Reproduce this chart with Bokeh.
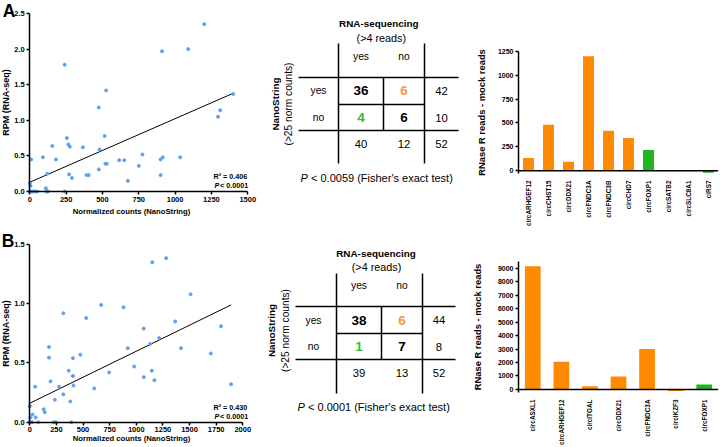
import math
from bokeh.plotting import figure
from bokeh.models import Range1d, FixedTicker, Label, Span, NumeralTickFormatter, LinearAxis
from bokeh.layouts import column, row
from bokeh.embed import file_html
from bokeh.resources import INLINE
from bokeh.core.properties import value

FONT = "Liberation Sans"
BLUE = "#5ea2ee"
ORANGE = "#ff8a00"
GREEN = "#22b422"
T_ORANGE = "#f39a3e"
T_GREEN = "#2fbf2f"

# ---------------- data: panel A scatter ----------------
scatA_x = [1200, 1090, 910, 240, 525, 475, 1400, 1310, 1295, 515, 255, 265, 275, 155, 365,
           480, 90, 180, 10, 775, 615, 650, 520, 530, 750, 915, 900, 1035, 475, 270, 390,
           405, 290, 900, 675, 120, 110, 120, 0, 5, 0, 20, 35, 50, 115, 240, 10, 125]
scatA_y = [2.35, 2.0, 1.97, 1.78, 1.42, 1.18, 1.37, 1.14, 1.05, 0.78, 0.75, 0.66, 0.63, 0.64, 0.62,
           0.59, 0.48, 0.45, 0.45, 0.52, 0.44, 0.44, 0.39, 0.39, 0.36, 0.48, 0.45, 0.48, 0.31, 0.24, 0.23,
           0.23, 0.19, 0.23, 0.15, 0.25, 0.045, 0.0, 0.12, 0.08, 0.0, 0.0, 0.0, 0.0, 0.0, 0.0, 0.0, 0.0]
fitA_x = [0, 1400]
fitA_y = [0.13, 1.38]
scatA_xticks = [0, 250, 500, 750, 1000, 1250, 1500]
scatA_yticks = [0.0, 0.5, 1.0, 1.5, 2.0, 2.5]
statA_r2 = "R\u00b2 = 0.406"
statA_p = "< 0.0001"

# ---------------- data: panel B scatter ----------------
scatB_x = [1280, 1150, 1510, 315, 670, 880, 530, 1365, 1795, 1070, 1215, 1130, 920, 1420, 180,
           180, 475, 405, 1700, 365, 1145, 980, 745, 405, 1070, 1170, 195, 410, 50, 275, 1890,
           605, 315, 235, 380, 130, 140, 0, 25, 55, 5, 0, 20, 80, 225, 245, 390]
scatB_y = [1.385, 1.35, 1.08, 0.92, 0.99, 0.97, 0.88, 0.85, 0.81, 0.79, 0.71, 0.66, 0.625, 0.625, 0.635,
           0.545, 0.57, 0.54, 0.58, 0.435, 0.435, 0.47, 0.42, 0.39, 0.38, 0.355, 0.345, 0.31, 0.30, 0.30, 0.32,
           0.285, 0.235, 0.19, 0.175, 0.11, 0.085, 0.135, 0.065, 0.04, 0.04, 0.0, 0.0, 0.0, 0.0, 0.0, 0.0]
fitB_x = [0, 1890]
fitB_y = [0.16, 0.99]
scatB_xticks = [0, 250, 500, 750, 1000, 1250, 1500, 1750, 2000]
scatB_yticks = [0.0, 0.5, 1.0, 1.5]
statB_r2 = "R\u00b2 = 0.430"
statB_p = "< 0.0001"

scat_xtitle = "Normalized counts (NanoString)"
scat_ytitle = "RPM (RNA-seq)"

# ---------------- data: contingency tables ----------------
tabA_cells = ["36", "6", "4", "6"]        # (NS yes, RNA yes), (NS yes, RNA no), (NS no, RNA yes), (NS no, RNA no)
tabA_row_tot = ["42", "10"]
tabA_col_tot = ["40", "12"]
tabA_total = "52"
tabA_p = "< 0.0059 (Fisher's exact test)"

tabB_cells = ["38", "6", "1", "7"]
tabB_row_tot = ["44", "8"]
tabB_col_tot = ["39", "13"]
tabB_total = "52"
tabB_p = "< 0.0001 (Fisher's exact test)"

tab_title = "RNA-sequencing"
tab_sub = "(>4 reads)"
tab_ylab = "NanoString"
tab_ysub = "(>25 norm counts)"
tab_yes_no = ["yes", "no"]

# ---------------- data: RNase R bars ----------------
barA_names = ["circARHGEF12", "circCHST15", "circDDX21", "circFNDC3A", "circFNDC3B",
              "circCHD7", "circFOXP1", "circSATB2", "circSLC8A1", "ciRS7"]
barA_vals = [133, 482, 93, 1200, 419, 342, 216, 8, 3, -22]
barA_set = ["NS only"] * 6 + ["RNA-seq only"] * 4
barA_yticks = [0, 250, 500, 750, 1000, 1250]

barB_names = ["circASXL1", "circARHGEF12", "circITGAL", "circDDX21", "circFNDC3A", "circIKZF3", "circFOXP1"]
barB_vals = [9150, 2060, 240, 960, 3000, -110, 355]
barB_set = ["NS only"] * 6 + ["RNA-seq only"]
barB_yticks = [0, 1000, 2000, 3000, 4000, 5000, 6000, 7000, 8000, 9000]
bar_ytitle = "RNase R reads - mock reads"


def lab(p, text, x, y, size, style="normal", angle=0, align="center", baseline="middle",
        color="black", units="screen"):
    p.add_layout(Label(x=x, y=y, x_units=units, y_units=units, text=text, text_font=FONT,
                       text_font_size=f"{size}px", text_font_style=style, text_align=align,
                       text_baseline=baseline, angle=angle, text_color=color))


def axis_style(ax, size="7.5px"):
    ax.axis_line_width = 1.5
    ax.axis_line_color = "black"
    ax.major_tick_line_width = 1.5
    ax.major_tick_line_color = "black"
    ax.major_tick_out = 3
    ax.major_tick_in = 0
    ax.minor_tick_line_color = None
    ax.major_label_text_font = FONT
    ax.major_label_text_font_style = "bold"
    ax.major_label_text_font_size = size
    ax.major_label_text_color = "black"
    ax.major_label_standoff = 2


def scatter_panel(W, H, left, top, fw, fh, xs, ys, fx, fy, xticks, yticks, letter, r2, pval, t):
    xmax, ymax = xticks[-1], yticks[-1]
    kx, ky = fw / xmax, fh / ymax
    bottom = H - top - fh
    xr = Range1d(-left / kx, xmax + (W - left - fw) / kx)
    yr = Range1d(-bottom / ky, ymax + top / ky)
    p = figure(width=W, height=H, x_range=xr, y_range=yr, output_backend="svg",
               toolbar_location=None, min_border=0, x_axis_location=None, y_axis_location=None)
    p.grid.visible = False
    p.outline_line_color = None
    xa = LinearAxis(fixed_location=0, bounds=(0, xmax), ticker=FixedTicker(ticks=xticks))
    ya = LinearAxis(fixed_location=0, bounds=(0, ymax), ticker=FixedTicker(ticks=yticks),
                    formatter=NumeralTickFormatter(format="0.0"))
    axis_style(xa)
    axis_style(ya)
    p.add_layout(xa, "below")
    p.add_layout(ya, "left")
    p.line(fx, fy, color="black", line_width=1)
    p.scatter(xs, ys, size=3, color=BLUE)
    Y = lambda v: H - v
    lab(p, letter, t["lx"], Y(t["ly"]), 17.5, "bold")
    lab(p, scat_ytitle, 5, Y(t["yty"]), 9, "bold", angle=math.pi / 2)
    lab(p, scat_xtitle, 131, Y(t["xty"]), 7.7, "bold")
    lab(p, r2, 213, Y(t["r2y"]), 7.2, "bold", align="left")
    lab(p, "P", 214, Y(t["py"]), 7.2, "bold italic", align="left")
    lab(p, pval, 219.5, Y(t["py"]), 7.2, "bold", align="left")
    return p


def table_panel(W, H, g, cells, rtot, ctot, total, ptxt):
    p = figure(width=W, height=H, x_range=Range1d(0, W), y_range=Range1d(0, H),
               output_backend="svg", toolbar_location=None, min_border=0,
               x_axis_location=None, y_axis_location=None)
    p.grid.visible = False
    p.outline_line_color = None
    Y = lambda v: H - v
    vx1, vx2, vtop, vbot = g["vx1"], g["vx2"], g["vtop"], g["vbot"]
    hy1, hy2, hx0, hx1 = g["hy1"], g["hy2"], g["hx0"], g["hx1"]
    p.segment(x0=[vx1, vx2, hx0, hx0, vx1, g["ivx"]],
              y0=[Y(vtop), Y(vtop), Y(hy1), Y(hy2), Y(g["ihy"]), Y(hy1)],
              x1=[vx1, vx2, hx1, hx1, vx2, g["ivx"]],
              y1=[Y(vbot), Y(vbot), Y(hy1), Y(hy2), Y(g["ihy"]), Y(hy2)],
              line_color="black", line_width=1.5)
    c1, c2, c3 = g["c1"], g["c2"], g["c3"]
    r1, r2, r3 = g["r1"], g["r2"], g["r3"]
    p.text(x=[c1, c2, c1, c2], y=[Y(r1), Y(r1), Y(r2), Y(r2)], text=cells,
           text_color=["black", T_ORANGE, T_GREEN, "black"], text_font=value(FONT),
           text_font_size=value("13.5px"), text_font_style="bold", text_align="center",
           text_baseline="middle")
    p.text(x=[c3, c3, c1, c2, c3], y=[Y(r1), Y(r2), Y(r3), Y(r3), Y(r3)],
           text=rtot + ctot + [total], text_font=value(FONT), text_font_size=value("11.3px"),
           text_align="center", text_baseline="middle")
    p.text(x=[c1, c2, g["rl"], g["rl"]], y=[Y(g["hd"]), Y(g["hd"]), Y(r1), Y(r2)],
           text=tab_yes_no + tab_yes_no, text_font=value(FONT), text_font_size=value("10.3px"),
           text_align="center", text_baseline="middle")
    lab(p, tab_title, g["tx"], Y(g["ty"]), 9.9, "bold", units="data")
    lab(p, tab_sub, g["sx"], Y(g["sy"]), 10.8, units="data")
    lab(p, tab_ylab, g["nx"], Y(g["ny"]), 9.9, "bold", angle=math.pi / 2, units="data")
    lab(p, tab_ysub, g["n2x"], Y(g["ny"]), 10.2, angle=math.pi / 2, units="data")
    lab(p, "P", g["px"], Y(g["py"]), 11, "italic", align="left", units="data")
    lab(p, ptxt, g["px"] + 10.5, Y(g["py"]), 11, align="left", units="data")
    return p


def bar_panel(W, H, left, top, fw, fh, names, vals, sets, ymin, ymax, yticks, title_standoff):
    p = figure(width=W, height=H, x_range=names, y_range=Range1d(ymin, ymax),
               output_backend="svg", toolbar_location=None, min_border_left=left,
               min_border_right=W - left - fw, min_border_top=top, min_border_bottom=H - top - fh)
    p.grid.visible = False
    p.outline_line_color = None
    colors = [ORANGE if s == "NS only" else GREEN for s in sets]
    p.vbar(x=names, top=vals, bottom=0, width=0.55, color=colors, line_color=None)
    p.add_layout(Span(location=0, dimension="width", line_color="black", line_width=1.5))
    ya = p.yaxis[0]
    axis_style(ya, "7px")
    ya.ticker = FixedTicker(ticks=yticks)
    ya.axis_label = bar_ytitle
    ya.axis_label_text_font = FONT
    ya.axis_label_text_font_style = "bold"
    ya.axis_label_text_font_size = "9.4px"
    ya.axis_label_text_color = "black"
    ya.axis_label_standoff = title_standoff
    xa = p.xaxis[0]
    xa.axis_line_color = None
    xa.major_tick_line_color = None
    xa.major_label_orientation = math.pi / 2
    xa.major_label_text_font = FONT
    xa.major_label_text_font_style = "bold"
    xa.major_label_text_font_size = "6.4px"
    xa.major_label_text_color = "black"
    xa.major_label_standoff = 1
    return p


sA = scatter_panel(258, 220, 29.3, 13, 218, 178, scatA_x, scatA_y, fitA_x, fitA_y,
                   scatA_xticks, scatA_yticks, "A", statA_r2, statA_p,
                   dict(lx=8.5, ly=10.5, yty=102, xty=211, r2y=176, py=185))
sB = scatter_panel(258, 227, 29.3, 24, 213, 177.7, scatB_x, scatB_y, fitB_x, fitB_y,
                   scatB_xticks, scatB_yticks, "B", statB_r2, statB_p,
                   dict(lx=7.5, ly=20, yty=113, xty=217.5, r2y=187.3, py=196))

gA = dict(vx1=80, vx2=166, vtop=43, vbot=163, hy1=77, hy2=130, hx0=40, hx1=200,
          ihy=104, ivx=125, c1=102.5, c2=145.5, c3=183, r1=90, r2=117, r3=143,
          rl=60, hd=56, tx=120.3, ty=23, sx=122.8, sy=37, nx=17, n2x=30, ny=103.5, px=42, py=177)
gB = dict(vx1=78, vx2=164, vtop=53, vbot=173, hy1=86, hy2=139, hx0=37, hx1=197,
          ihy=113, ivx=123, c1=100.5, c2=143.5, c3=180.5, r1=99.5, r2=126, r3=152,
          rl=55, hd=65, tx=117.5, ty=33, sx=118, sy=46, nx=12.5, n2x=26.7, ny=110, px=39, py=186)
tA = table_panel(210, 220, gA, tabA_cells, tabA_row_tot, tabA_col_tot, tabA_total, tabA_p)
tB = table_panel(210, 227, gB, tabB_cells, tabB_row_tot, tabB_col_tot, tabB_total, tabB_p)

bA = bar_panel(252, 228, 43, 51, 207, 128, barA_names, barA_vals, barA_set, -30, 1250, barA_yticks, 8)
bB = bar_panel(252, 219, 46, 33, 206, 137, barB_names, barB_vals, barB_set, -230, 9500, barB_yticks, 12)

layout = row(column(sA, sB), column(tA, tB), column(bA, bB))
open("out.html", "w").write(file_html(layout, INLINE, "RNA-seq vs NanoString"))
